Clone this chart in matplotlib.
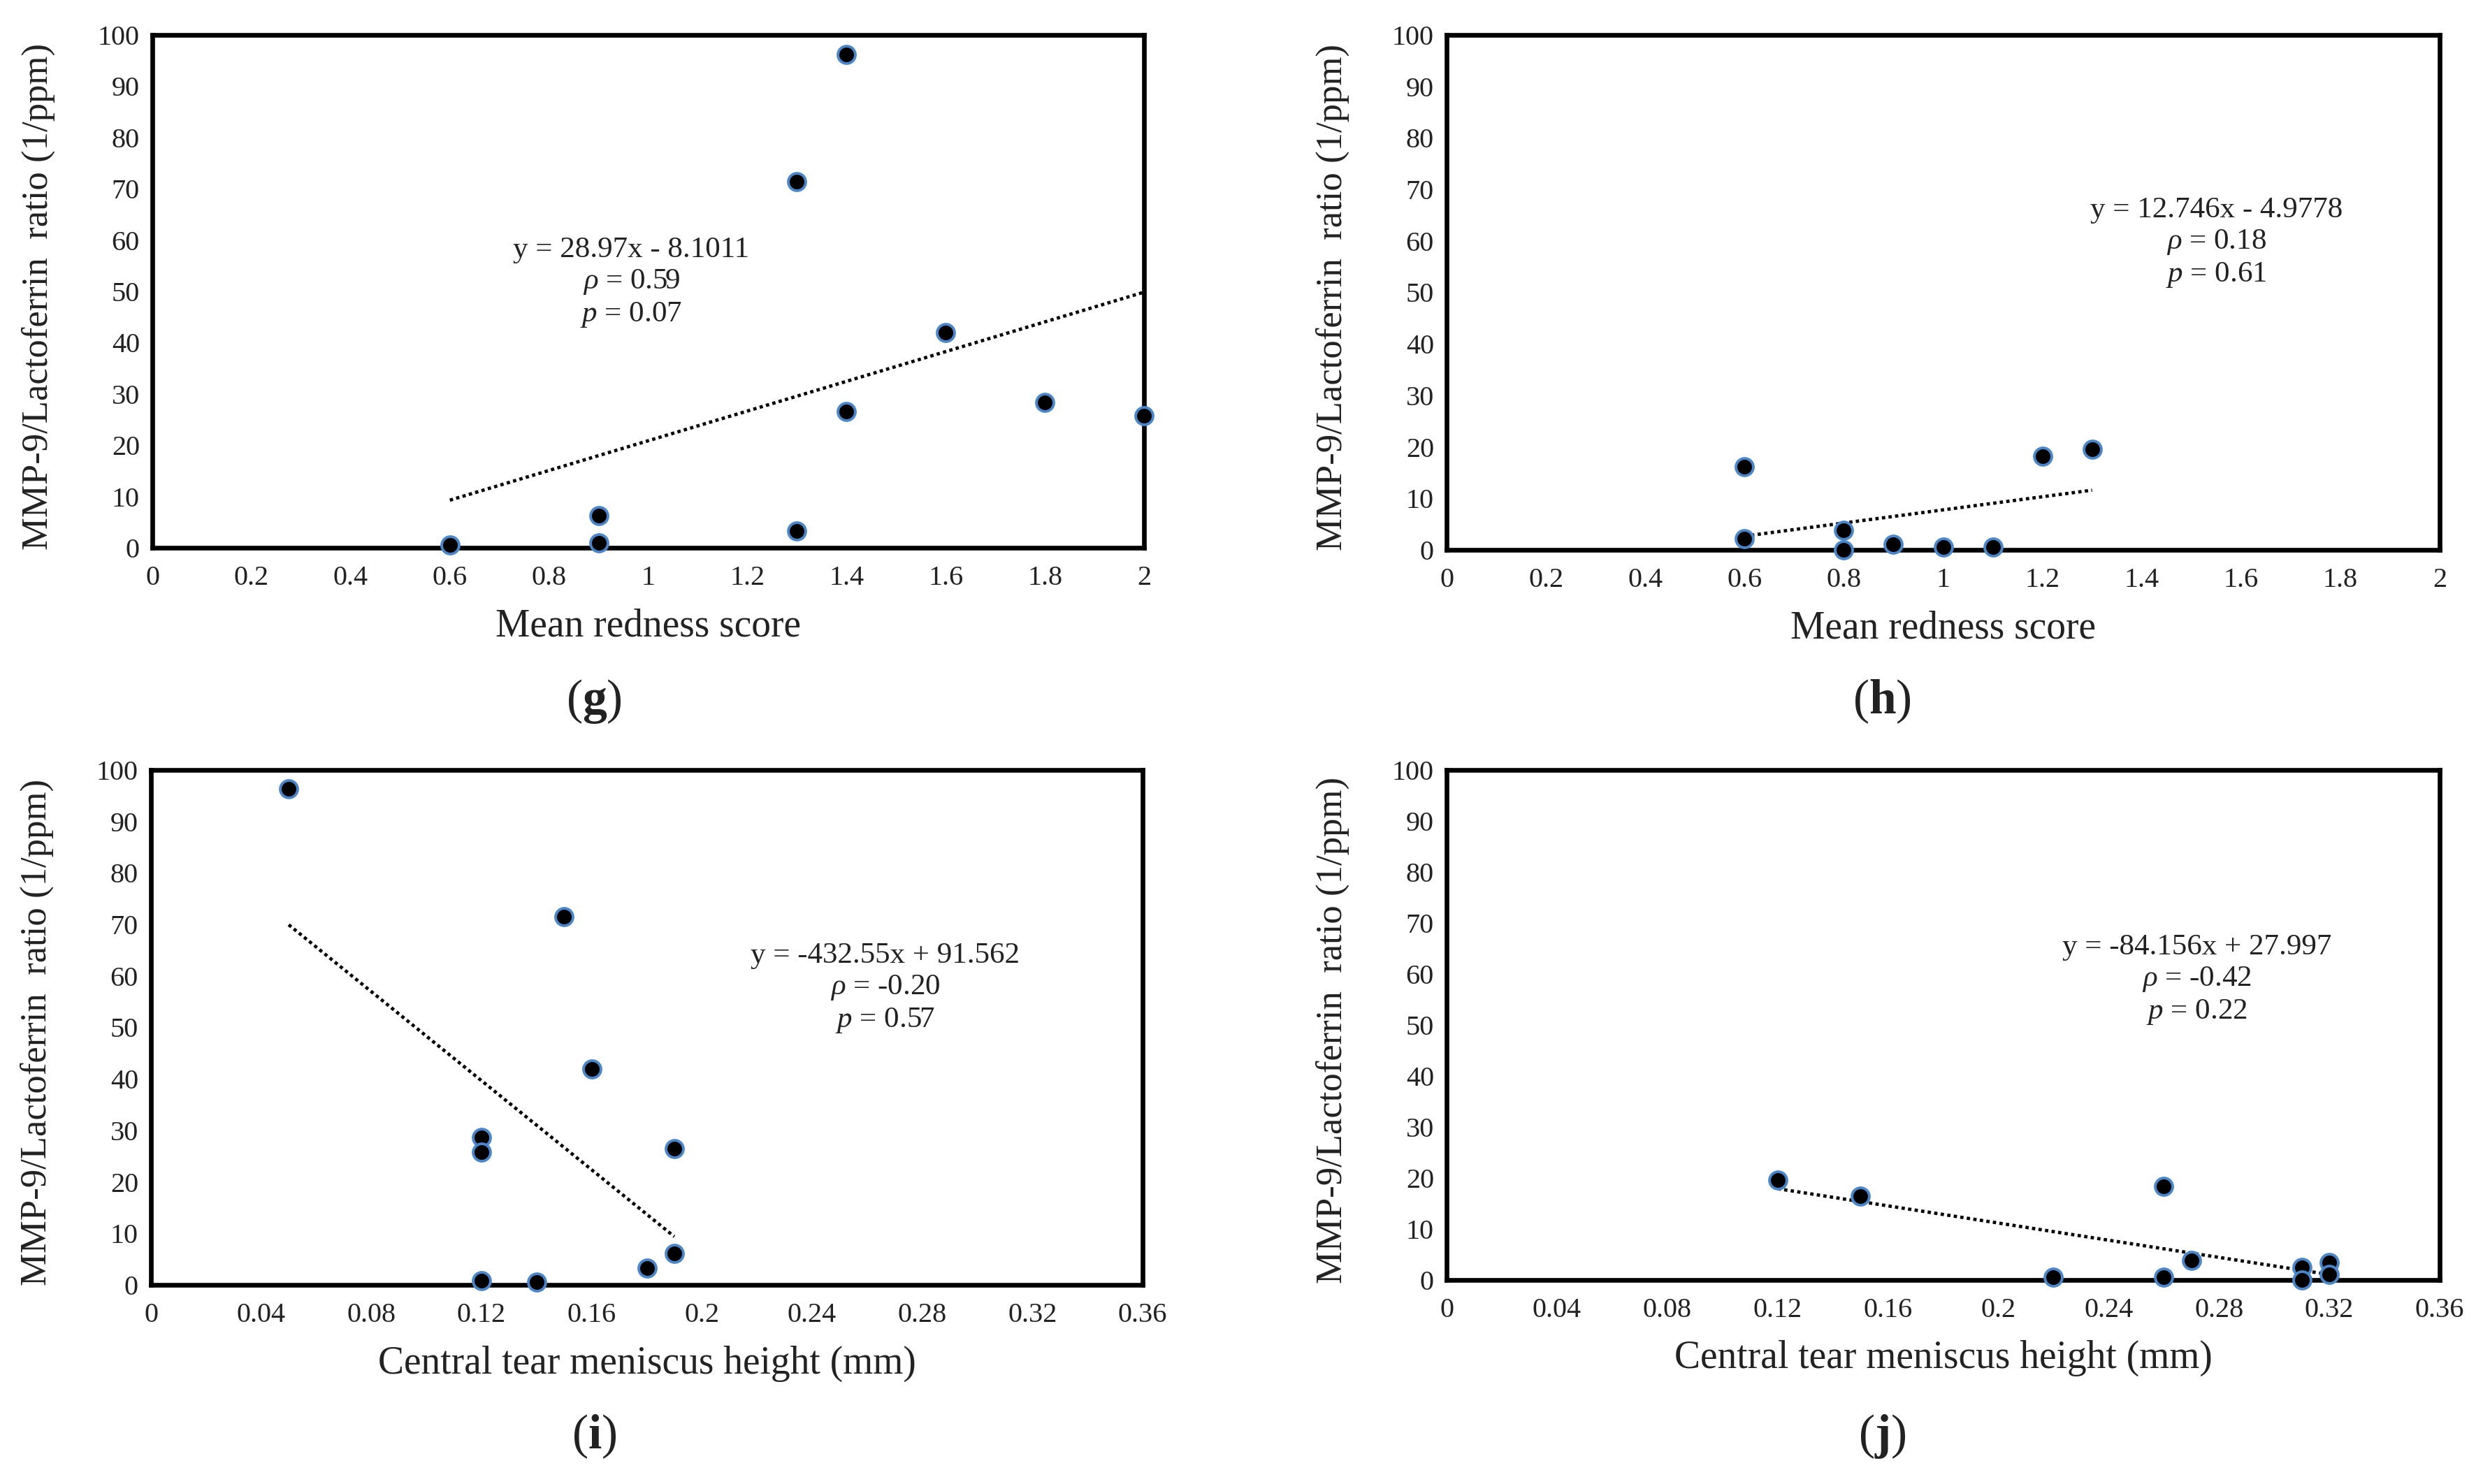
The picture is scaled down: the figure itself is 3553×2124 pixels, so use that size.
import numpy as np
import matplotlib
matplotlib.use("Agg")
import matplotlib.pyplot as plt
from matplotlib.ticker import FuncFormatter

plt.rcParams["font.family"] = ["Liberation Serif", "DejaVu Serif"]
plt.rcParams["mathtext.fontset"] = "custom"
plt.rcParams["mathtext.rm"] = "Liberation Serif"
plt.rcParams["mathtext.it"] = "Liberation Serif:italic"
plt.rcParams["mathtext.bf"] = "Liberation Serif:bold"

# (g) mean redness score vs ratio, group 1
g_x = [0.6, 0.9, 0.9, 1.3, 1.3, 1.4, 1.4, 1.6, 1.8, 2.0]
g_y = [0.5, 6.2, 0.9, 71.4, 3.3, 96.2, 26.6, 42.0, 28.4, 25.8]
# (h) mean redness score vs ratio, group 2
h_x = [0.6, 0.6, 0.8, 0.8, 0.9, 1.0, 1.1, 1.2, 1.3]
h_y = [16.2, 2.2, 3.8, 0.0, 1.1, 0.6, 0.6, 18.2, 19.5]
# (i) central tear meniscus height vs ratio, group 1
i_x = [0.05, 0.15, 0.16, 0.12, 0.12, 0.19, 0.19, 0.18, 0.12, 0.14]
i_y = [96.3, 71.5, 41.9, 28.6, 25.8, 26.5, 6.1, 3.3, 0.8, 0.5]
# (j) central tear meniscus height vs ratio, group 2
j_x = [0.12, 0.15, 0.26, 0.22, 0.26, 0.27, 0.31, 0.31, 0.32, 0.32]
j_y = [19.6, 16.4, 18.3, 0.6, 0.6, 3.9, 2.5, 0.0, 3.4, 1.1]

# linear fits as printed on the chart (slope, intercept)
fits = {
    "g": (28.97, -8.1011),
    "h": (12.746, -4.9778),
    "i": (-432.55, 91.562),
    "j": (-84.156, 27.997),
}
fit_text = {
    "g": ["y = 28.97x - 8.1011", r"$\mathit{\rho}$ = 0.59", r"$p$ = 0.07"],
    "h": ["y = 12.746x - 4.9778", r"$\mathit{\rho}$ = 0.18", r"$p$ = 0.61"],
    "i": ["y = -432.55x + 91.562", r"$\mathit{\rho}$ = -0.20", r"$p$ = 0.57"],
    "j": ["y = -84.156x + 27.997", r"$\mathit{\rho}$ = -0.42", r"$p$ = 0.22"],
}
# where the fit text is centred (data coords)
text_pos = {"g": (0.966, 51.7), "h": (1.55, 59.6), "i": (0.2666, 57.5), "j": (0.272, 58.8)}

redness_ticks = [0, 0.2, 0.4, 0.6, 0.8, 1.0, 1.2, 1.4, 1.6, 1.8, 2.0]
height_ticks = [0, 0.04, 0.08, 0.12, 0.16, 0.2, 0.24, 0.28, 0.32, 0.36]
y_ticks = list(range(0, 101, 10))

ylab = "MMP-9/Lactoferrin  ratio (1/ppm)"
txt_col = "#222222"

W, H = 3553, 2124
fig = plt.figure(figsize=(W / 100, H / 100), dpi=100)


def px_axes(left, right, top, bottom):
    return fig.add_axes([left / W, 1 - bottom / H, (right - left) / W, (bottom - top) / H])


panels = [
    ("g", g_x, g_y, redness_ticks, "Mean redness score", (218, 1637, 50, 784), (850, 1004)),
    ("h", h_x, h_y, redness_ticks, "Mean redness score", (2070, 3491, 50, 787), (2693, 1004)),
    ("i", i_x, i_y, height_ticks, "Central tear meniscus height (mm)", (216, 1635, 1102, 1839), (850, 2056)),
    ("j", j_x, j_y, height_ticks, "Central tear meniscus height (mm)", (2070, 3491, 1102, 1832), (2693, 2056)),
]

fmt = FuncFormatter(lambda v, pos: ("%g" % round(v, 2)))

for key, xs, ys, xticks, xlabel, box, lab_px in panels:
    ax = px_axes(*box)
    ax.scatter(xs, ys, s=320, color="black", edgecolors="#4a86c8", linewidths=2.8,
               zorder=3, clip_on=False)
    a, b = fits[key]
    xl = np.array([min(xs), max(xs)])
    ax.plot(xl, a * xl + b, color="black", linestyle=(0, (1, 1)), linewidth=3.4, zorder=2)

    tx, ty = text_pos[key]
    ax.text(tx, ty, "\n".join(fit_text[key]), ha="center", va="center",
            fontsize=31, color=txt_col, linespacing=1.2)

    ax.set_xlim(xticks[0], xticks[-1])
    ax.set_ylim(0, 100)
    ax.set_xticks(xticks)
    ax.set_yticks(y_ticks)
    ax.xaxis.set_major_formatter(fmt)
    ax.tick_params(axis="both", length=0, labelsize=29, labelcolor=txt_col)
    ax.tick_params(axis="x", pad=18)
    ax.tick_params(axis="y", pad=13)
    for sp in ax.spines.values():
        sp.set_linewidth(4.8)
        sp.set_color("black")

    ax.set_xlabel(xlabel, fontsize=40, color=txt_col)
    ax.xaxis.label.set_va("center")
    ax.xaxis.set_label_coords(0.5, -0.153)
    ax.set_ylabel(ylab, fontsize=38, color=txt_col)
    ax.yaxis.label.set_va("center")
    ax.yaxis.set_label_coords(-0.115, 0.49)

    fig.text(lab_px[0] / W, 1 - lab_px[1] / H, r"($\mathbf{%s}$)" % key,
             ha="center", va="center", fontsize=50, color=txt_col)

fig.savefig("out.png", dpi=100, facecolor="white")
